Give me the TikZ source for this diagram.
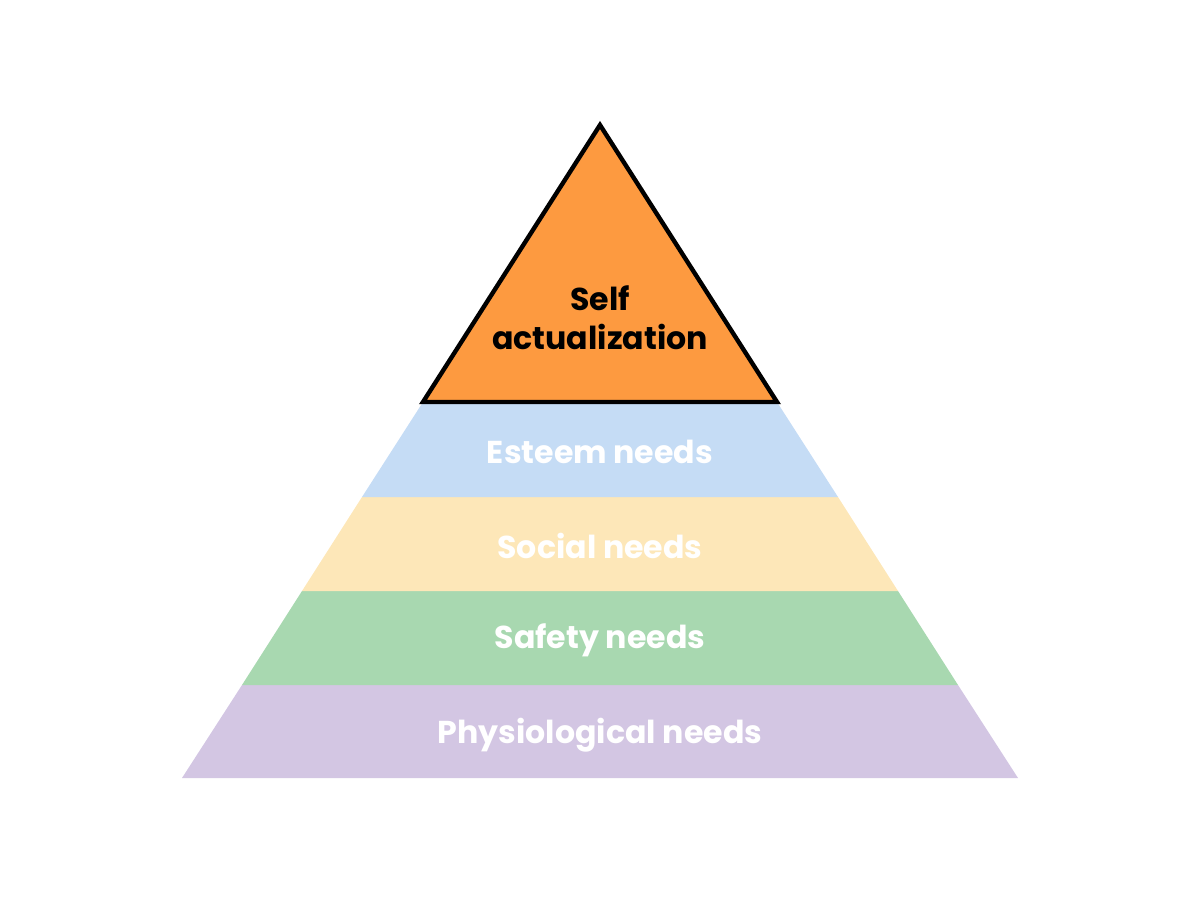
\documentclass[tikz,border=0pt]{standalone}
\usepackage{fontspec}
\setmainfont{Poppins}
\usetikzlibrary{positioning}
\definecolor{topc}{HTML}{FD9A40}
\definecolor{esteemc}{HTML}{C5DCF5}
\definecolor{socialc}{HTML}{FDE7B8}
\definecolor{safetyc}{HTML}{A8D8B0}
\definecolor{physc}{HTML}{D3C6E3}
\tikzset{
  lvltext/.style={font=\bfseries\fontsize{18}{22}\selectfont, text=white},
  toptext/.style={font=\bfseries\fontsize{18}{22}\selectfont, text=black, align=center}
}
\begin{document}
\begin{tikzpicture}[x=0.02cm, y=-0.02cm]
			\useasboundingbox (0,0) rectangle (1200,900);
			\coordinate (P) at (600,125);
			\coordinate (A1) at (423,402); \coordinate (B1) at (777,402);
			\coordinate (A2) at (362,497); \coordinate (B2) at (838,497);
			\coordinate (A3) at (302,591); \coordinate (B3) at (898,591);
			\coordinate (A4) at (242,685); \coordinate (B4) at (958,685);
			\coordinate (A5) at (182,778); \coordinate (B5) at (1018,778);
			
			\fill[physc] (A4)--(B4)--(B5)--(A5)--cycle;
			\fill[safetyc] (A3)--(B3)--(B4)--(A4)--cycle;
			\fill[socialc] (A2)--(B2)--(B3)--(A3)--cycle;
			\fill[esteemc] (A1)--(B1)--(B2)--(A2)--cycle;
			\draw[fill=topc, line width=2.5pt, line join=miter] (P)--(B1)--(A1)--cycle;
			
			\node[toptext] (self) at (600,318) {Self\\actualization};
			\node[lvltext] (esteem) at (600,452) {Esteem needs};
			\node[lvltext] (social) at (600,546) {Social needs};
			\node[lvltext] (safety) at (600,640) {Safety needs};
			\node[lvltext] (phys) at (600,735) {Physiological needs};
		\end{tikzpicture}
\end{document}
